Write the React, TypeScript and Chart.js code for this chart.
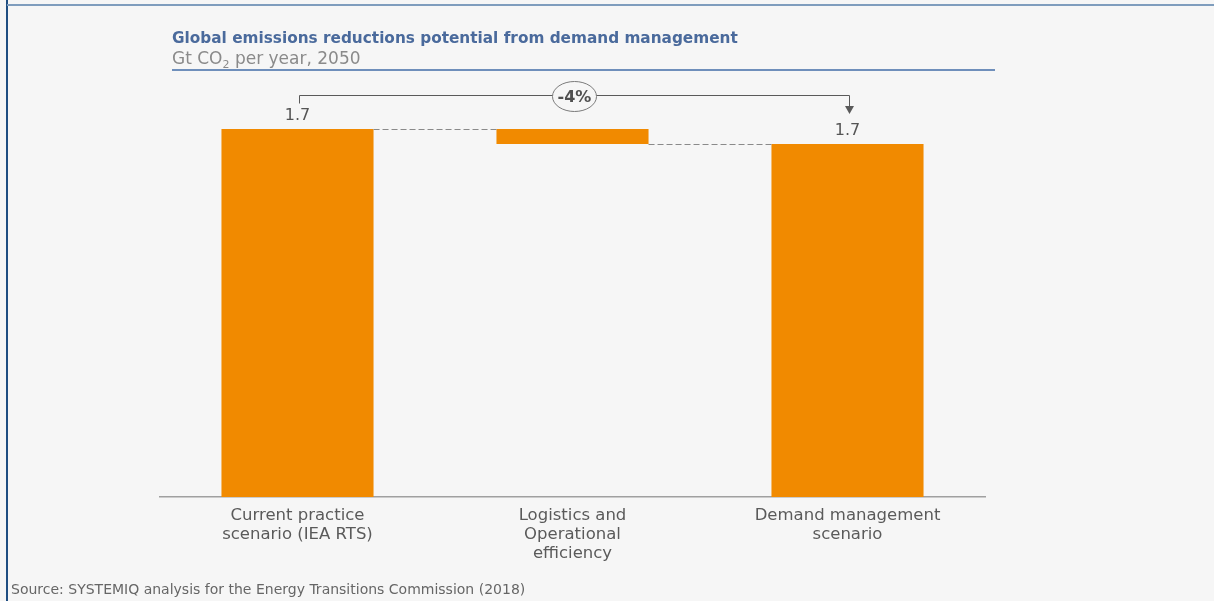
import React, { useEffect, useRef } from "react";
import { Chart, registerables } from "chart.js";

Chart.register(...registerables);

const categories: string[][] = [
  ["Current practice", "scenario (IEA RTS)"],
  ["Logistics and", "Operational", "efficiency"],
  ["Demand management", "scenario"],
];
const barStarts = [0, 1.63, 0];
const barEnds = [1.7, 1.7, 1.63];
const valueLabels = ["1.7", "", "1.7"];
const changeLabel = "-4%";

const FONT = "'DejaVu Sans', sans-serif";
const ORANGE = "#f18a00";
const BG = "#f6f6f6";

const annotations = {
  id: "waterfallAnnotations",
  afterDatasetsDraw(chart: any) {
    const ctx = chart.ctx;
    const meta = chart.getDatasetMeta(0);
    const els = meta.data;
    const tops = els.map((e: any) => Math.min(e.y, e.base));
    const bottoms = els.map((e: any) => Math.max(e.y, e.base));
    ctx.save();
    // dashed connectors
    ctx.strokeStyle = "#8a8a8a";
    ctx.lineWidth = 1;
    ctx.setLineDash([6, 3]);
    for (let i = 0; i < els.length - 1; i++) {
      const a = els[i];
      const b = els[i + 1];
      const yLevel = i === 0 ? tops[0] : bottoms[1];
      ctx.beginPath();
      ctx.moveTo(a.x + a.width / 2, Math.round(yLevel) + 0.5);
      ctx.lineTo(b.x - b.width / 2, Math.round(yLevel) + 0.5);
      ctx.stroke();
    }
    ctx.setLineDash([]);
    // value labels
    ctx.fillStyle = "#555";
    ctx.font = `16px ${FONT}`;
    ctx.textAlign = "center";
    ctx.textBaseline = "middle";
    els.forEach((e: any, i: number) => {
      if (valueLabels[i]) ctx.fillText(valueLabels[i], e.x, tops[i] - 13);
    });
    // bracket
    const x1 = els[0].x + 2;
    const x3 = els[2].x + 2;
    const yb = Math.round(tops[0] - 34) + 0.5;
    ctx.strokeStyle = "#5a5a5a";
    ctx.lineWidth = 1;
    ctx.beginPath();
    ctx.moveTo(x1, yb + 8);
    ctx.lineTo(x1, yb);
    ctx.lineTo(x3, yb);
    ctx.lineTo(x3, tops[2] - 36);
    ctx.stroke();
    ctx.fillStyle = "#5a5a5a";
    ctx.beginPath();
    ctx.moveTo(x3 - 4.5, tops[2] - 38);
    ctx.lineTo(x3 + 4.5, tops[2] - 38);
    ctx.lineTo(x3, tops[2] - 30);
    ctx.closePath();
    ctx.fill();
    // ellipse label
    const cx = (x1 + x3) / 2;
    ctx.fillStyle = BG;
    ctx.strokeStyle = "#7a7a7a";
    ctx.beginPath();
    ctx.ellipse(cx, yb + 1, 22, 15, 0, 0, Math.PI * 2);
    ctx.fill();
    ctx.stroke();
    ctx.fillStyle = "#505050";
    ctx.font = `bold 16px ${FONT}`;
    ctx.fillText(changeLabel, cx, yb + 2);
    ctx.restore();
  },
};

export default function App() {
  const ref = useRef<HTMLCanvasElement | null>(null);
  useEffect(() => {
    if (!ref.current) return;
    const chart = new Chart(ref.current, {
      type: "bar",
      data: {
        labels: categories as any,
        datasets: [
          {
            data: barStarts.map((s, i) => [s, barEnds[i]]) as any,
            backgroundColor: ORANGE,
            borderWidth: 0,
            barPercentage: 0.553,
            categoryPercentage: 1,
          },
        ],
      },
      options: {
        responsive: false,
        animation: false,
        layout: { padding: { left: 160, right: 229, top: 64, bottom: 0 } },
        plugins: {
          legend: { display: false },
          tooltip: { enabled: false },
          title: { display: false },
        },
        scales: {
          x: {
            grid: { display: false },
            border: { display: true, color: "#a0a0a0", width: 1.5 },
            ticks: {
              color: "#5a5a5a",
              font: { family: FONT, size: 16.5, lineHeight: 1.15 },
              padding: 1,
              maxRotation: 0,
            },
            afterFit: (s: any) => {
              s.height = 601 - 497;
            },
          },
          y: { display: false, min: 0, max: 2.0 },
        },
      },
      plugins: [annotations],
    });
    return () => chart.destroy();
  }, []);

  const textBase: React.CSSProperties = {
    position: "absolute",
    whiteSpace: "nowrap",
    fontFamily: FONT,
  };

  return (
    <div
      style={{
        position: "fixed",
        left: 0,
        top: 0,
        width: 1214,
        height: 601,
        background: BG,
        overflow: "hidden",
      }}
    >
      <canvas ref={ref} width={1214} height={601} style={{ position: "absolute", left: 0, top: 0 }} />
      <div style={{ position: "absolute", left: 6, top: 0, width: 2, height: 601, background: "#1f4e82" }} />
      <div style={{ position: "absolute", left: 7, top: 4, width: 1207, height: 2, background: "#7f9dbd" }} />
      <div style={{ position: "absolute", left: 172, top: 69, width: 823, height: 1.5, background: "#6f8fbb" }} />
      <div
        style={{
          ...textBase,
          left: 172,
          top: 28,
          lineHeight: "20px",
          fontSize: 15.3,
          fontWeight: "bold",
          color: "#4a6a9c",
        }}
      >
        Global emissions reductions potential from demand management
      </div>
      <div
        style={{
          ...textBase,
          left: 172,
          top: 48,
          lineHeight: "20px",
          fontSize: 17,
          color: "#8a8a8a",
        }}
      >
        Gt CO<sub style={{ fontSize: 11, lineHeight: 0 }}>2</sub> per year, 2050
      </div>
      <div
        style={{
          ...textBase,
          left: 11,
          top: 579,
          lineHeight: "20px",
          fontSize: 14,
          color: "#666",
        }}
      >
        Source: SYSTEMIQ analysis for the Energy Transitions Commission (2018)
      </div>
    </div>
  );
}
